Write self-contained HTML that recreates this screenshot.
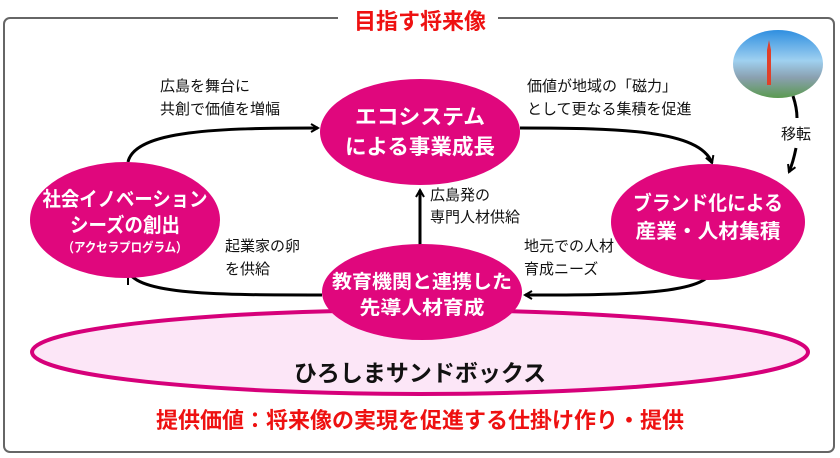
<!DOCTYPE html>
<html><head><meta charset="utf-8"><style>
body{margin:0;background:#fff}
svg{display:block}
text{font-family:"Liberation Sans","Noto Sans CJK JP",sans-serif}
</style></head><body>
<svg width="840" height="458" viewBox="0 0 840 458" xmlns="http://www.w3.org/2000/svg">
<defs>
<marker id="ah" markerWidth="10" markerHeight="10" refX="8" refY="5" orient="auto" markerUnits="userSpaceOnUse">
<path d="M1,1 L8,5 L1,9" fill="none" stroke="#000" stroke-width="2"/>
</marker>
<linearGradient id="sky" x1="0" y1="0" x2="0" y2="1">
<stop offset="0" stop-color="#2f8fe0"/><stop offset="0.45" stop-color="#9fd0f0"/><stop offset="0.7" stop-color="#8aa0b0"/><stop offset="1" stop-color="#5a9a50"/>
</linearGradient>
</defs>
<rect x="4" y="18" width="830" height="434" rx="6" fill="#fff" stroke="#666" stroke-width="2"/>
<rect x="338" y="8" width="160" height="22" fill="#fff"/>
<text x="420" y="29" text-anchor="middle" font-size="22" font-weight="bold" fill="#ee1111">目指す将来像</text>

<ellipse cx="420" cy="352" rx="388" ry="42" fill="#fce6f7" stroke="#d6007a" stroke-width="4"/>
<text x="420" y="381" text-anchor="middle" font-size="23" font-weight="bold" fill="#111">ひろしまサンドボックス</text>
<text x="420" y="428" text-anchor="middle" font-size="22" font-weight="bold" fill="#ee1111">提供価値：将来像の実現を促進する仕掛け作り・提供</text>

<g fill="none" stroke="#000" stroke-width="3">
<path d="M128,162 C135,130 220,128 318,128" marker-end="url(#ah)"/>
<path d="M520,128 C620,128 700,130 712,163" marker-end="url(#ah)"/>
<path d="M712,268 C712,295 620,295 525,295" marker-end="url(#ah)"/>
<path d="M322,295 C220,295 135,295 128,270" />
<path d="M420,250 L420,190" marker-end="url(#ah)"/>
<path d="M793,96 C796,105 797,112 797,118"/>
<path d="M796,148 C794,158 792,165 789,172" marker-end="url(#ah)"/>
</g>
<line x1="128" y1="285" x2="128" y2="268" stroke="#000" stroke-width="2"/>

<g fill="#e0077d">
<ellipse cx="420" cy="132" rx="100" ry="53"/>
<ellipse cx="125" cy="220" rx="95" ry="58"/>
<ellipse cx="708" cy="222" rx="97" ry="58"/>
<ellipse cx="422" cy="292" rx="100" ry="48"/>
</g>
<g fill="#fff" font-weight="bold" text-anchor="middle">
<text x="420" y="124" font-size="21" textLength="130" lengthAdjust="spacingAndGlyphs">エコシステム</text>
<text x="420" y="154" font-size="21" textLength="150" lengthAdjust="spacingAndGlyphs">による事業成長</text>
<text x="125" y="206" font-size="20" textLength="165" lengthAdjust="spacingAndGlyphs">社会イノベーション</text>
<text x="125" y="232" font-size="20" textLength="110" lengthAdjust="spacingAndGlyphs">シーズの創出</text>
<text x="125" y="252" font-size="13" textLength="125" lengthAdjust="spacingAndGlyphs">（アクセラプログラム）</text>
<text x="708" y="210" font-size="20" textLength="150" lengthAdjust="spacingAndGlyphs">ブランド化による</text>
<text x="708" y="238" font-size="20" textLength="145" lengthAdjust="spacingAndGlyphs">産業・人材集積</text>
<text x="422" y="288" font-size="19" textLength="180" lengthAdjust="spacingAndGlyphs">教育機関と連携した</text>
<text x="422" y="314" font-size="19" textLength="125" lengthAdjust="spacingAndGlyphs">先導人材育成</text>
</g>

<ellipse cx="778" cy="64" rx="45" ry="34" fill="url(#sky)"/>
<path d="M767,85 L767,50 L769,40 L771,50 L771,85 Z" fill="#e0402a"/>

<g font-size="15" fill="#111">
<text x="160" y="91">広島を舞台に</text>
<text x="160" y="114">共創で価値を増幅</text>
<text x="527" y="91">価値が地域の「磁力」</text>
<text x="527" y="114">として更なる集積を促進</text>
<text x="430" y="200">広島発の</text>
<text x="430" y="222">専門人材供給</text>
<text x="225" y="251">起業家の卵</text>
<text x="225" y="274">を供給</text>
<text x="524" y="251">地元での人材</text>
<text x="524" y="274">育成ニーズ</text>
<text x="781" y="139">移転</text>
</g>
</svg>
</body></html>
